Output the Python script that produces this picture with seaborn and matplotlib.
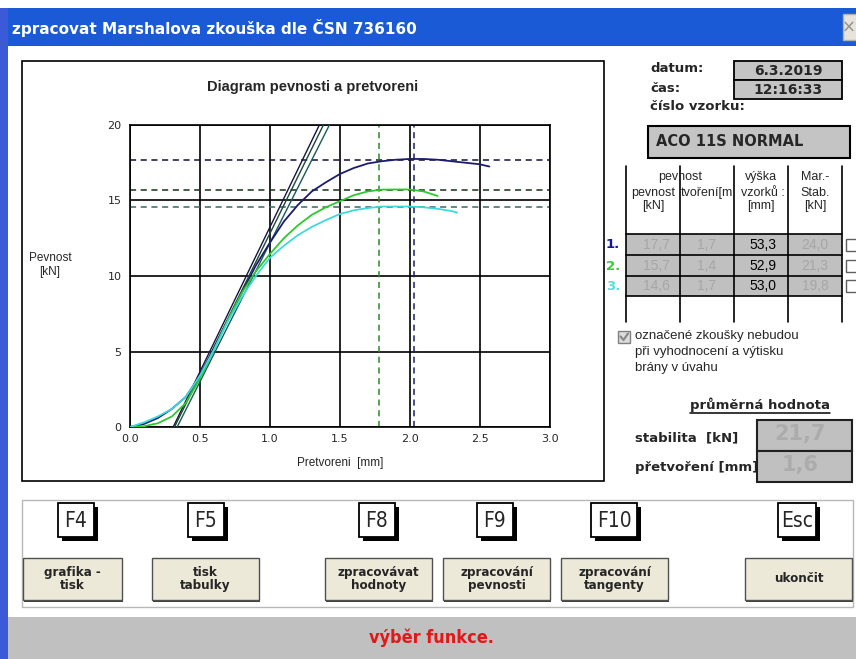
import numpy as np
import pandas as pd
import matplotlib
matplotlib.use("Agg")
import matplotlib.pyplot as plt
import seaborn as sns
from matplotlib import font_manager
from matplotlib.patches import Rectangle

# ---------------- data ----------------
x_1 = [0.0, 0.1, 0.2, 0.3, 0.4, 0.5, 0.6, 0.7, 0.8, 0.9, 1.0, 1.1, 1.2, 1.3, 1.4,
       1.5, 1.6, 1.7, 1.8, 1.9, 2.0, 2.1, 2.2, 2.3, 2.4, 2.5, 2.57]
y_1 = [0.0, 0.2, 0.6, 1.2, 2.0, 3.4, 5.2, 7.1, 8.9, 10.7, 12.2, 13.6, 14.7, 15.6, 16.2,
       16.75, 17.15, 17.45, 17.6, 17.7, 17.75, 17.75, 17.7, 17.6, 17.5, 17.4, 17.25]
x_2 = [0.0, 0.1, 0.2, 0.3, 0.4, 0.5, 0.6, 0.7, 0.8, 0.9, 1.0, 1.1, 1.2, 1.3, 1.4,
       1.5, 1.6, 1.7, 1.8, 1.9, 2.0, 2.1, 2.2]
y_2 = [0.0, 0.05, 0.25, 0.7, 1.6, 3.2, 5.1, 7.1, 8.9, 10.3, 11.45, 12.5, 13.35, 14.05, 14.55,
       14.95, 15.35, 15.6, 15.72, 15.73, 15.73, 15.6, 15.3]
x_3 = [0.0, 0.1, 0.2, 0.3, 0.4, 0.5, 0.6, 0.7, 0.8, 0.9, 1.0, 1.1, 1.2, 1.3, 1.4,
       1.5, 1.6, 1.7, 1.8, 1.9, 2.0, 2.1, 2.2, 2.3, 2.34]
y_3 = [0.0, 0.3, 0.7, 1.2, 2.0, 3.4, 5.1, 7.0, 8.6, 10.0, 11.2, 12.0, 12.7, 13.25, 13.7,
       14.1, 14.35, 14.5, 14.6, 14.6, 14.6, 14.55, 14.45, 14.3, 14.2]
sample_ids = ["1.", "2.", "3."]
peak_strength = [17.7, 15.7, 14.6]
peak_deform = [2.03, 1.78]
tangent_x_at_0 = [0.309, 0.318, 0.337]
tangent_x_at_20 = [1.354, 1.383, 1.426]
x_ticks = [0.0, 0.5, 1.0, 1.5, 2.0, 2.5, 3.0]
x_tick_labels = ["0.0", "0.5", "1.0", "1.5", "2.0", "2.5", "3.0"]
y_ticks = [0, 5, 10, 15, 20]
y_tick_labels = ["0", "5", "10", "15", "20"]

date_text = "6.3.2019"
time_text = "12:16:33"
sample_name = "ACO 11S NORMAL"
col_strength = ["17,7", "15,7", "14,6"]
col_deform = ["1,7", "1,4", "1,7"]
col_height = ["53,3", "52,9", "53,0"]
col_stability = ["24,0", "21,3", "19,8"]
avg_stability = "21,7"
avg_deform = "1,6"
key_labels = ["F4", "F5", "F8", "F9", "F10", "Esc"]
button_labels = ["grafika -\ntisk", "tisk\ntabulky", "zpracovávat\nhodnoty",
                 "zpracování\npevnosti", "zpracování\ntangenty", "ukončit"]
status_text = "výběr funkce."

# ---------------- style ----------------
sns.set_style("white")
names = {f.name for f in font_manager.fontManager.ttflist}
NARROW = "Liberation Sans Narrow" if "Liberation Sans Narrow" in names else "DejaVu Sans"
ARIAL = "Liberation Sans" if "Liberation Sans" in names else "DejaVu Sans"
plt.rcParams["font.family"] = ["DejaVu Sans"]

line_colors = ["#1c1c6e", "#2ec82e", "#3cdada"]
tangent_colors = ["#141440", "#1a4a30", "#1c5a5a"]
hline_colors = ["#10103c", "#143214", "#3c6464"]
vline_colors = ["#1c1c6e", "#2a8a2a"]

W, H = 856, 659
fig = plt.figure(figsize=(W / 100, H / 100), dpi=100)
fig.patch.set_facecolor("white")
bg = fig.add_axes([0, 0, 1, 1])
bg.set_xlim(0, W)
bg.set_ylim(H, 0)
bg.axis("off")
bg.set_zorder(0)


def rect(x0, y0, x1, y1, fc="none", ec="none", lw=1.0, z=1):
    bg.add_patch(Rectangle((x0, y0), x1 - x0, y1 - y0, facecolor=fc,
                           edgecolor=ec, linewidth=lw, zorder=z))


# window chrome
rect(0, 8, W, 46, fc="#1a5ad6", z=1)
rect(0, 8, 8, H, fc="#3a5ad8", z=1)
bg.text(12, 28, "zpracovat Marshalova zkouška dle ČSN 736160", color="white",
        fontsize=11, fontweight="bold", va="center", ha="left", zorder=3)
rect(843, 14, 858, 40, fc="#e8e4dc", ec="#b0b0b0", z=2)
bg.text(849, 28, "×", color="#909090", fontsize=12, va="center", ha="center", zorder=3)

# chart panel
rect(22, 61, 604, 481, fc="white", ec="black", lw=1.2, z=1)
bg.text(313, 87, "Diagram pevnosti a pretvoreni", fontsize=10.5, fontweight="bold",
        family=ARIAL, ha="center", va="center", zorder=3)
bg.text(50, 258, "Pevnost", fontsize=8.5, ha="center", va="center", family=ARIAL, zorder=3)
bg.text(50, 272, "[kN]", fontsize=8.5, ha="center", va="center", family=ARIAL, zorder=3)
bg.text(340, 463, "Pretvoreni  [mm]", fontsize=8.5, ha="center", va="center",
        family=ARIAL, zorder=3)

# chart axes
ax = fig.add_axes([130 / W, 1 - 427 / H, 419.5 / W, 302 / H])
ax.set_zorder(2)
ax.set_facecolor("white")
df = pd.concat([
    pd.DataFrame({"x": x_1, "y": y_1, "vzorek": sample_ids[0]}),
    pd.DataFrame({"x": x_2, "y": y_2, "vzorek": sample_ids[1]}),
    pd.DataFrame({"x": x_3, "y": y_3, "vzorek": sample_ids[2]}),
], ignore_index=True)

for i in range(3):
    ax.plot([tangent_x_at_0[i], tangent_x_at_20[i]], [0, 20], color=tangent_colors[i],
            lw=1.0, zorder=3)
for i, yv in enumerate(peak_strength):
    ax.axhline(yv, color=hline_colors[i], lw=1.1, ls=(0, (4, 3)), zorder=2)
for i, xv in enumerate(peak_deform):
    ax.axvline(xv, color=vline_colors[i], lw=1.1, ls=(0, (4, 3)), zorder=2)

sns.lineplot(data=df, x="x", y="y", hue="vzorek", palette=line_colors, sort=False,
             estimator=None, legend=False, ax=ax, linewidth=1.3, zorder=4)

ax.set_xlim(0, 3)
ax.set_ylim(0, 20)
ax.set_xticks(x_ticks)
ax.set_xticklabels(x_tick_labels)
ax.set_yticks(y_ticks)
ax.set_yticklabels(y_tick_labels)
ax.grid(True, color="black", lw=1.2, zorder=1)
ax.set_axisbelow(True)
ax.tick_params(length=0, labelsize=8)
ax.tick_params(axis="x", pad=5)
ax.tick_params(axis="y", pad=6)
for s in ax.spines.values():
    s.set_color("black")
    s.set_linewidth(1.2)
ax.set_xlabel("")
ax.set_ylabel("")

# right panel: date/time/sample
bold = dict(fontweight="bold", fontsize=9.5, va="center", ha="left", zorder=3)
bg.text(650, 69, "datum:", **bold)
bg.text(650, 88, "čas:", **bold)
bg.text(650, 106, "číslo vzorku:", **bold)
rect(734, 61, 842, 80, fc="#c4c4c4", ec="black", lw=1.3, z=2)
rect(734, 80, 842, 99, fc="#c4c4c4", ec="black", lw=1.3, z=2)
bg.text(788, 71, date_text, fontsize=10, fontweight="bold", ha="center", va="center", zorder=3)
bg.text(788, 90, time_text, fontsize=10, fontweight="bold", ha="center", va="center", zorder=3)
rect(648, 126, 850, 158, fc="#c4c4c4", ec="black", lw=1.5, z=2)
bg.text(656, 142, sample_name, fontsize=10.5, fontweight="bold", ha="left", va="center", zorder=3)

# table
col_x = [626, 680, 734, 788, 842]
rect(626, 234, 842, 296, fc="#c0c0c0", z=1)
for cx in col_x:
    bg.plot([cx, cx], [166, 322], color="black", lw=1.2, zorder=3)
for ry in [234, 255, 276, 296]:
    bg.plot([626, 842], [ry, ry], color="black", lw=1.2, zorder=3)
tfont = dict(fontsize=9, family=ARIAL, ha="center", va="center", zorder=3)
bg.text(653 + 27, 177, "pevnost", **tfont)
bg.text(653, 193, "pevnost", **tfont)
bg.text(653, 206, "[kN]", **tfont)
bg.text(681, 193, "tvoření[m", fontsize=9, family=ARIAL, ha="left", va="center", zorder=3)
bg.text(761, 177, "výška", **tfont)
bg.text(763, 193, "vzorků :", **tfont)
bg.text(761, 206, "[mm]", **tfont)
bg.text(815, 177, "Mar.-", **tfont)
bg.text(815, 193, "Stab.", **tfont)
bg.text(815, 206, "[kN]", **tfont)
row_y = [245, 266, 286]
label_colors = ["#1414a0", "#3cc83c", "#5adcdc"]
for i in range(3):
    bg.text(606, row_y[i], sample_ids[i], color=label_colors[i], fontsize=9.5,
            fontweight="bold", ha="left", va="center", zorder=3)
    bg.text(656, row_y[i], col_strength[i], color="#a6a6a6", fontsize=10, family=ARIAL,
            ha="center", va="center", zorder=3)
    bg.text(707, row_y[i], col_deform[i], color="#a6a6a6", fontsize=10, family=ARIAL,
            ha="center", va="center", zorder=3)
    bg.text(763, row_y[i], col_height[i], color="black", fontsize=10, family=ARIAL,
            ha="center", va="center", zorder=3)
    bg.text(815, row_y[i], col_stability[i], color="#a6a6a6", fontsize=10, family=ARIAL,
            ha="center", va="center", zorder=3)
    rect(846, row_y[i] - 6, 858, row_y[i] + 6, fc="white", ec="#606060", lw=1.0, z=2)

# checkbox note
rect(618, 331, 630, 343, fc="#dcdcdc", ec="#808080", lw=1.0, z=2)
bg.plot([620.5, 623.5, 628], [336.5, 340, 333.5], color="#8a8a8a", lw=1.6, zorder=3)
nfont = dict(fontsize=9.5, family=ARIAL, ha="left", va="center", zorder=3)
bg.text(635, 336, "označené zkoušky nebudou", **nfont)
bg.text(635, 352, "při vyhodnocení a výtisku", **nfont)
bg.text(635, 368, "brány v úvahu", **nfont)

# averages
bg.text(760, 405, "průměrná hodnota", fontsize=9.5, fontweight="bold", ha="center",
        va="center", zorder=3)
bg.plot([690, 830], [413, 413], color="black", lw=1.1, zorder=3)
bg.text(635, 438, "stabilita  [kN]", fontsize=9.5, fontweight="bold", ha="left",
        va="center", zorder=3)
bg.text(635, 467, "přetvoření [mm]", fontsize=9.5, fontweight="bold", ha="left",
        va="center", zorder=3)
rect(757, 420, 852, 451, fc="#c0c0c0", ec="#202020", lw=1.5, z=4)
rect(757, 451, 852, 482, fc="#c0c0c0", ec="#202020", lw=1.5, z=4)
bg.text(800, 434, avg_stability, color="#acacac", fontsize=15, fontweight="bold",
        ha="center", va="center", zorder=5)
bg.text(800, 465, avg_deform, color="#acacac", fontsize=15, fontweight="bold",
        ha="center", va="center", zorder=5)

# button frame
rect(22, 500, 853, 607, fc="white", ec="#b8b8b8", lw=1.0, z=1)
key_cx = [76, 206, 377, 495, 614, 797]
key_w = [36, 36, 36, 36, 46, 38]
for cx, w, lab in zip(key_cx, key_w, key_labels):
    rect(cx - w / 2 + 4, 507, cx + w / 2 + 4, 541, fc="black", z=2)
    rect(cx - w / 2, 503, cx + w / 2, 537, fc="white", ec="black", lw=1.3, z=3)
    bg.text(cx, 521, lab, fontsize=15, family=NARROW, ha="center", va="center",
            zorder=4, fontstretch="condensed")
btn_x = [(23, 122), (152, 259), (325, 432), (443, 550), (561, 668), (745, 852)]
for (x0, x1), lab in zip(btn_x, button_labels):
    rect(x0 + 1.5, 559.5, x1 + 1.5, 601.5, fc="#404040", z=2)
    rect(x0, 558, x1, 600, fc="#ece9d8", ec="#505050", lw=1.0, z=3)
    bg.text((x0 + x1) / 2, 579, lab, fontsize=9.5, fontweight="bold", family=NARROW,
            fontstretch="condensed", ha="center", va="center", linespacing=1.05, zorder=4)

# status bar
rect(8, 617, W, H, fc="#c0c0c0", z=1)
bg.text(431, 638, status_text, color="#e01818", fontsize=13, fontweight="bold",
        family=NARROW, fontstretch="condensed", ha="center", va="center", zorder=3)

fig.savefig("out.png", dpi=100)
